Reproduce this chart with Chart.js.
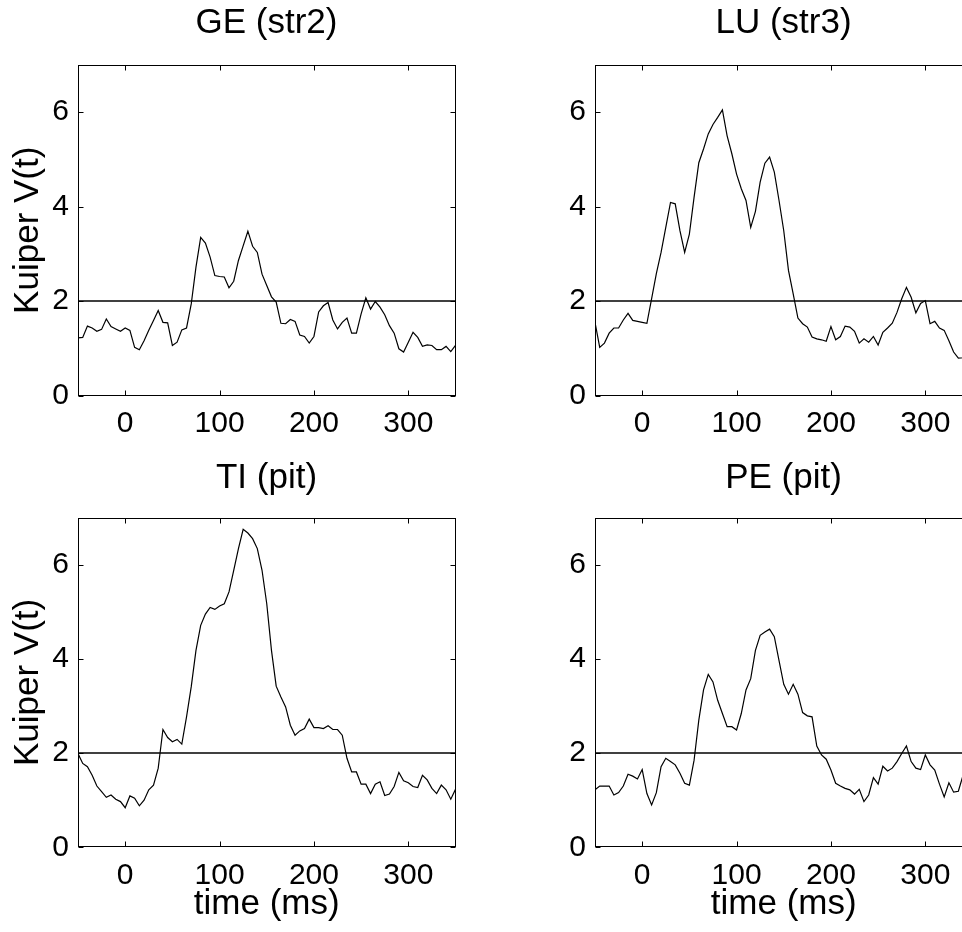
<!DOCTYPE html>
<html>
<head>
<meta charset="utf-8">
<script src="https://cdn.jsdelivr.net/npm/chart.js@4.4.1/dist/chart.umd.min.js"></script>
<style>
  html, body { margin: 0; padding: 0; background: #fff; overflow: hidden; width: 962px; height: 932px; }
  canvas { position: absolute; }
</style>
</head>
<body>
<canvas id="c0" width="533" height="460" style="left:0px;top:0px"></canvas>
<canvas id="c1" width="533" height="460" style="left:517px;top:0px"></canvas>
<canvas id="c2" width="533" height="472" style="left:0px;top:460px"></canvas>
<canvas id="c3" width="533" height="472" style="left:517px;top:460px"></canvas>
<script>
// ---------------- data ----------------
const timeMs = [-50,-45,-40,-35,-30,-25,-20,-15,-10,-5,0,5,10,15,20,25,30,35,40,45,50,55,60,65,70,75,80,85,90,95,100,105,110,115,120,125,130,135,140,145,150,155,160,165,170,175,180,185,190,195,200,205,210,215,220,225,230,235,240,245,250,255,260,265,270,275,280,285,290,295,300,305,310,315,320,325,330,335,340,345,350];

const geStr2 = [1.22,1.23,1.47,1.43,1.36,1.40,1.62,1.46,1.41,1.36,
  1.43,1.38,1.02,0.97,1.16,1.38,1.59,1.80,1.55,1.54,
  1.06,1.13,1.39,1.43,1.94,2.72,3.35,3.23,2.93,2.54,
  2.52,2.51,2.28,2.42,2.86,3.17,3.48,3.16,3.03,2.57,
  2.33,2.09,1.98,1.53,1.52,1.61,1.57,1.28,1.25,1.11,
  1.25,1.77,1.90,1.97,1.60,1.41,1.55,1.64,1.32,1.32,
  1.73,2.07,1.83,1.99,1.87,1.71,1.48,1.32,0.99,0.92,
  1.13,1.34,1.23,1.04,1.07,1.06,0.97,0.97,1.04,0.93,
  1.06];

const luStr3 = [1.55,1.02,1.11,1.32,1.43,1.43,1.60,1.74,1.59,1.57,
  1.55,1.53,2.05,2.58,3.03,3.56,4.09,4.06,3.49,3.03,
  3.42,4.20,4.93,5.22,5.54,5.74,5.89,6.05,5.50,5.12,
  4.69,4.38,4.13,3.56,3.90,4.52,4.92,5.05,4.73,4.13,
  3.49,2.65,2.15,1.64,1.52,1.45,1.24,1.20,1.18,1.15,
  1.46,1.18,1.25,1.47,1.45,1.36,1.11,1.20,1.13,1.25,
  1.07,1.34,1.43,1.53,1.76,2.05,2.29,2.08,1.75,1.95,
  2.01,1.52,1.57,1.43,1.38,1.16,0.92,0.79,0.80,0.82,
  0.85];

const tiPit = [1.99,1.78,1.71,1.53,1.30,1.18,1.06,1.11,1.02,0.97,
  0.84,1.09,1.04,0.88,1.00,1.22,1.32,1.68,2.50,2.33,
  2.24,2.29,2.19,2.77,3.41,4.18,4.71,4.95,5.09,5.05,
  5.12,5.17,5.42,5.88,6.34,6.75,6.67,6.55,6.34,5.88,
  5.17,4.18,3.42,3.19,2.98,2.59,2.38,2.47,2.52,2.72,
  2.54,2.54,2.52,2.58,2.50,2.50,2.38,1.89,1.60,1.60,
  1.34,1.34,1.14,1.34,1.39,1.10,1.13,1.29,1.59,1.41,
  1.37,1.29,1.27,1.53,1.43,1.25,1.14,1.32,1.22,1.02,
  1.23];

const pePit = [1.22,1.30,1.30,1.30,1.11,1.16,1.30,1.55,1.51,1.45,
  1.65,1.14,0.90,1.16,1.71,1.89,1.82,1.75,1.57,1.36,
  1.32,1.85,2.70,3.34,3.67,3.51,3.12,2.84,2.56,2.56,
  2.49,2.84,3.34,3.58,4.18,4.50,4.57,4.63,4.47,3.96,
  3.46,3.25,3.46,3.25,2.86,2.79,2.77,2.15,1.96,1.87,
  1.64,1.36,1.30,1.25,1.22,1.13,1.23,0.97,1.11,1.48,
  1.34,1.72,1.62,1.68,1.82,1.99,2.15,1.82,1.68,1.65,
  1.96,1.75,1.64,1.34,1.07,1.37,1.17,1.19,1.53,1.55,
  1.50];

const panelTitles = ['GE (str2)', 'LU (str3)', 'TI (pit)', 'PE (pit)'];
const xTickValues = [0, 100, 200, 300];
const yTickValues = [0, 2, 4, 6];
const xMin = -50, xMax = 350, yMin = 0, yMax = 7;
const thresholdValue = 2;
const xAxisLabel = 'time (ms)';
const yAxisLabel = 'Kuiper V(t)';

// ---------------- rendering ----------------
const FONT = "'Liberation Sans', Arial, Helvetica, sans-serif";
const TICK_LEN = 5;
const TITLE_SIZE = 35;

const boxTicks = {
  id: 'boxTicks',
  afterDatasetsDraw(chart) {
    const {ctx, chartArea: a, scales: {x, y}} = chart;
    ctx.save();
    ctx.strokeStyle = '#000';
    ctx.lineWidth = 1;
    const L = Math.round(a.left) + 0.5, R = Math.round(a.right) - 0.5;
    const T = Math.round(a.top) + 0.5, B = Math.round(a.bottom) - 0.5;
    ctx.strokeRect(L, T, R - L, B - T);
    ctx.beginPath();
    x.ticks.forEach(t => {
      const px = Math.round(x.getPixelForValue(t.value)) + 0.5;
      ctx.moveTo(px, B); ctx.lineTo(px, B - TICK_LEN);
      ctx.moveTo(px, T); ctx.lineTo(px, T + TICK_LEN);
    });
    y.ticks.forEach(t => {
      const py = Math.round(y.getPixelForValue(t.value)) + 0.5;
      ctx.moveTo(L, py); ctx.lineTo(L + TICK_LEN, py);
      ctx.moveTo(R, py); ctx.lineTo(R - TICK_LEN, py);
    });
    ctx.stroke();
    ctx.restore();
  }
};

function makePanel(id, title, values, opts) {
  const pts = timeMs.map((t, i) => ({x: t, y: values[i]}));
  const thr = [{x: xMin, y: thresholdValue}, {x: xMax, y: thresholdValue}];
  new Chart(document.getElementById(id), {
    type: 'line',
    data: {
      datasets: [
        {data: pts, borderColor: '#000', borderWidth: 1.2, pointRadius: 0, tension: 0, fill: false},
        {data: thr, borderColor: '#000', borderWidth: 1.4, pointRadius: 0, tension: 0, fill: false}
      ]
    },
    options: {
      responsive: false,
      animation: false,
      events: [],
      layout: {padding: 0},
      plugins: {
        legend: {display: false},
        tooltip: {enabled: false},
        title: {
          display: true, text: title, color: '#000',
          font: {family: FONT, size: TITLE_SIZE, weight: 'normal', lineHeight: 1},
          padding: {top: opts.titleTop, bottom: opts.titleBottom}
        }
      },
      scales: {
        x: {
          type: 'linear', min: xMin, max: xMax,
          afterBuildTicks: s => { s.ticks = xTickValues.map(v => ({value: v})); },
          afterFit: s => { s.height = opts.xAxisHeight; },
          grid: {display: false, drawTicks: false},
          border: {display: false},
          ticks: {color: '#000', padding: 13, maxRotation: 0, autoSkip: false,
                  font: {family: FONT, size: 30, lineHeight: 1}},
          title: {display: opts.showX, text: xAxisLabel, color: '#000',
                  font: {family: FONT, size: TITLE_SIZE, lineHeight: 1},
                  padding: {top: 0, bottom: 10.5}}
        },
        y: {
          type: 'linear', min: yMin, max: yMax,
          afterBuildTicks: s => { s.ticks = yTickValues.map(v => ({value: v})); },
          afterFit: s => { s.width = 78; },
          grid: {display: false, drawTicks: false},
          border: {display: false},
          ticks: {color: '#000', padding: 9, font: {family: FONT, size: 30, lineHeight: 1}},
          title: {display: opts.showY, text: yAxisLabel, color: '#000',
                  font: {family: FONT, size: TITLE_SIZE, lineHeight: 1},
                  padding: {top: 10.5, bottom: 0}}
        },
        yRight: {
          type: 'linear', position: 'right', min: yMin, max: yMax,
          afterFit: s => { s.width = 77.5; },
          grid: {display: false, drawTicks: false},
          border: {display: false},
          ticks: {display: false}
        }
      }
    },
    plugins: [boxTicks]
  });
}

const topOpts = {titleTop: 5.9, titleBottom: 24.1, xAxisHeight: 64.5};
const botOpts = {titleTop: 0.8, titleBottom: 21.7, xAxisHeight: 84.7};

makePanel('c0', panelTitles[0], geStr2, {...topOpts, showX: false, showY: true});
makePanel('c1', panelTitles[1], luStr3, {...topOpts, showX: false, showY: false});
makePanel('c2', panelTitles[2], tiPit, {...botOpts, showX: true, showY: true});
makePanel('c3', panelTitles[3], pePit, {...botOpts, showX: true, showY: false});
</script>
</body>
</html>
